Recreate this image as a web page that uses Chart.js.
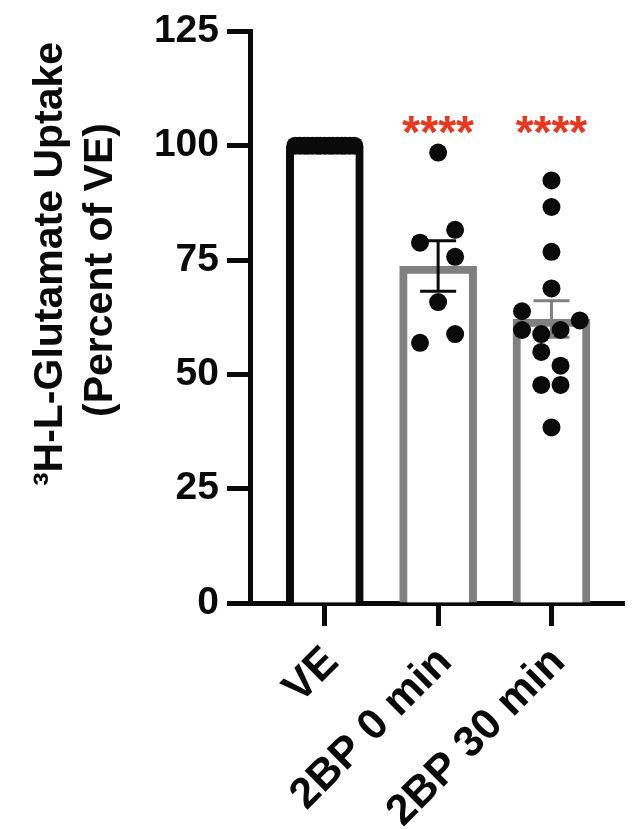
<!DOCTYPE html>
<html>
<head>
<meta charset="utf-8">
<script src="https://cdn.jsdelivr.net/npm/chart.js@4"></script>
<style>
  html, body { margin: 0; padding: 0; background: #fff; }
  #wrap { width: 633px; height: 829px; }
</style>
</head>
<body>
<div id="wrap"><canvas id="chart" width="633" height="829"></canvas></div>
<script>
// Data
const categories = ["VE", "2BP 0 min", "2BP 30 min"];
const barMeans = [100, 73.7, 62.1];
const barSEM = [0, 5.5, 4.0];
const stars = ["", "****", "****"];
const yTicks = [0, 25, 50, 75, 100, 125];

const veValues = [100, 100, 100, 100, 100, 100, 100, 100, 100, 100, 100, 100, 100, 100, 100];
const veJitter = [-0.26, -0.22, -0.18, -0.15, -0.11, -0.07, -0.04, 0, 0.04, 0.07, 0.11, 0.15, 0.18, 0.22, 0.26];

const bp0Values = [98.5, 81.6, 78.8, 75.7, 65.8, 58.8, 56.9];
const bp0Jitter = [0, 0.15, -0.16, 0.15, 0, 0.15, -0.16];

const bp30Values = [92.4, 86.6, 76.8, 68.8, 63.8, 61.8, 59.7, 58.8, 59.7, 54.9, 51.9, 47.7, 47.7, 38.4];
const bp30Jitter = [0, 0, 0, 0, -0.26, 0.25, -0.26, -0.09, 0.08, -0.09, 0.08, -0.09, 0.08, 0];

const BLACK = "#0a0a0a";
const GREY = "#808080";
const RED = "#e8381f";
const FONT = "'Liberation Sans', Arial, Helvetica, sans-serif";

const toPoints = (vals, jit, cx) => vals.map((v, i) => ({ x: cx + jit[i], y: v }));

// error bars drawn right after the bars, under the dots
const errorBars = {
  id: "errorBars",
  afterDatasetDraw(chart, args) {
    if (args.index !== 0) return;
    const { ctx, scales: { x, y } } = chart;
    const colors = [BLACK, BLACK, GREY];
    ctx.save();
    ctx.lineWidth = 3;
    barMeans.forEach((m, i) => {
      if (!barSEM[i]) return;
      const px = x.getPixelForValue(i);
      const top = y.getPixelForValue(m + barSEM[i]);
      const bot = y.getPixelForValue(m - barSEM[i]);
      const half = 18;
      ctx.strokeStyle = colors[i];
      ctx.beginPath();
      ctx.moveTo(px, top); ctx.lineTo(px, bot);
      ctx.moveTo(px - half, top); ctx.lineTo(px + half, top);
      ctx.moveTo(px - half, bot); ctx.lineTo(px + half, bot);
      ctx.stroke();
    });
    ctx.restore();
  }
};

// significance stars and the two-line y title
const extras = {
  id: "extras",
  afterDraw(chart) {
    const { ctx, scales: { x, y } } = chart;
    ctx.save();
    ctx.fillStyle = RED;
    ctx.font = "bold 46px " + FONT;
    ctx.textAlign = "center";
    ctx.textBaseline = "alphabetic";
    stars.forEach((s, i) => {
      if (s) ctx.fillText(s, x.getPixelForValue(i), y.getPixelForValue(99.6));
    });

    ctx.fillStyle = BLACK;
    ctx.font = "bold 41px " + FONT;
    const lines = [["\u00B3H-L-Glutamate Uptake", 62, 264], ["(Percent of VE)", 112, 270]];
    lines.forEach(([t, bx, cy]) => {
      ctx.save();
      ctx.translate(bx, cy);
      ctx.rotate(-Math.PI / 2);
      ctx.fillText(t, 0, 0);
      ctx.restore();
    });
    ctx.restore();
  }
};

new Chart(document.getElementById("chart"), {
  data: {
    datasets: [
      {
        type: "bar",
        data: barMeans.map((m, i) => ({ x: i, y: m })),
        backgroundColor: "#ffffff",
        borderColor: [BLACK, GREY, GREY],
        borderWidth: 8,
        borderSkipped: "start",
        barThickness: 77,
        order: 3
      },
      {
        type: "scatter",
        data: toPoints(veValues, veJitter, 0),
        pointRadius: 9,
        pointBackgroundColor: BLACK,
        pointBorderWidth: 0,
        order: 1
      },
      {
        type: "scatter",
        data: toPoints(bp0Values, bp0Jitter, 1),
        pointRadius: 9,
        pointBackgroundColor: BLACK,
        pointBorderWidth: 0,
        order: 1
      },
      {
        type: "scatter",
        data: toPoints(bp30Values, bp30Jitter, 2),
        pointRadius: 9,
        pointBackgroundColor: BLACK,
        pointBorderWidth: 0,
        order: 1
      }
    ]
  },
  options: {
    responsive: false,
    animation: false,
    layout: { padding: { top: 27, right: 3, left: 0, bottom: 0 } },
    plugins: { legend: { display: false }, tooltip: { enabled: false } },
    scales: {
      x: {
        type: "linear",
        offset: false,
        min: -0.66,
        max: 2.64,
        afterBuildTicks: s => { s.ticks = categories.map((c, i) => ({ value: i })); },
        afterFit: s => { s.height = 226; },
        grid: { offset: false, drawOnChartArea: false, drawTicks: true, tickLength: 23, tickWidth: 5, tickColor: BLACK },
        border: { display: true, width: 5, color: BLACK },
        ticks: {
          autoSkip: false,
          minRotation: 45,
          maxRotation: 45,
          padding: 11,
          labelOffset: 7,
          color: BLACK,
          font: { family: FONT, size: 43, weight: "bold" },
          callback: v => categories[v] ?? ""
        }
      },
      y: {
        min: 0,
        max: 125,
        afterBuildTicks: s => { s.ticks = yTicks.map(v => ({ value: v })); },
        afterFit: s => { s.width = 250; },
        grid: { drawOnChartArea: false, drawTicks: true, tickLength: 23, tickWidth: 5, tickColor: BLACK },
        border: { display: true, width: 5, color: BLACK },
        ticks: {
          padding: 8,
          color: BLACK,
          font: { family: FONT, size: 39, weight: "bold" }
        }
      }
    }
  },
  plugins: [errorBars, extras]
});
</script>
</body>
</html>
